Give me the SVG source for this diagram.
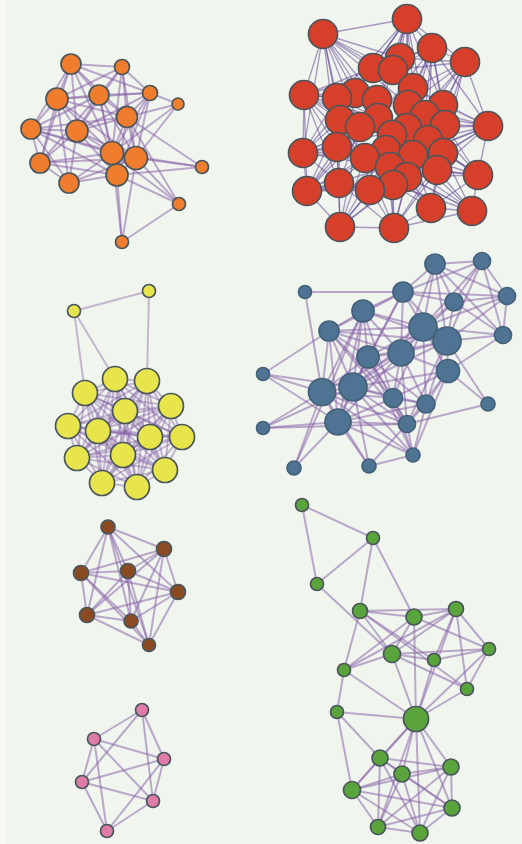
<svg xmlns="http://www.w3.org/2000/svg" width="522" height="844" viewBox="0 0 522 844">
<style>
  .bg { fill: #f0f5ee; }
  .edge path { fill: none; stroke: #8660a6; stroke-opacity: 0.52; stroke-width: 2; }
  #edges-red path { stroke: #54308c; stroke-opacity: 0.48; stroke-width: 1.35; }
  #edges-yellow path { stroke-opacity: 0.42; }
  .node circle { stroke: #4a565c; stroke-width: 1.7; }
  .o circle { fill: #ef7d2d; }
  .r circle { fill: #d6402b; }
  .y circle { fill: #e7e54b; }
  .b circle { fill: #4f7493; stroke: #44617a; }
  .n circle { fill: #8b4a22; }
  .p circle { fill: #e07ba8; }
  .g circle { fill: #59a53b; }
</style>
<rect class="bg" x="0" y="0" width="522" height="844"/>
<rect x="0" y="0" width="5" height="844" fill="#f6f9f4"/>

<!-- connectors -->
<g id="edges">
  <g id="edges-orange" class="edge">
    <path d="M71 64L122 67"/><path d="M71 64L57 99"/><path d="M71 64L99 95"/><path d="M71 64L150 93"/>
    <path d="M71 64L127 117"/><path d="M71 64L77 131"/><path d="M71 64L112 153"/><path d="M71 64L31 129"/>
    <path d="M71 64L40 163"/><path d="M122 67L99 95"/><path d="M122 67L150 93"/><path d="M122 67L127 117"/>
    <path d="M122 67L112 153"/><path d="M122 67L136 158"/><path d="M122 67L57 99"/><path d="M122 67L77 131"/>
    <path d="M57 99L99 95"/><path d="M57 99L31 129"/><path d="M57 99L77 131"/><path d="M57 99L112 153"/>
    <path d="M57 99L40 163"/><path d="M57 99L69 183"/><path d="M57 99L127 117"/><path d="M57 99L150 93"/>
    <path d="M57 99L136 158"/><path d="M99 95L150 93"/><path d="M99 95L127 117"/><path d="M99 95L77 131"/>
    <path d="M99 95L112 153"/><path d="M99 95L136 158"/><path d="M99 95L117 175"/><path d="M99 95L31 129"/>
    <path d="M99 95L40 163"/><path d="M150 93L178 104"/><path d="M150 93L127 117"/><path d="M150 93L136 158"/>
    <path d="M150 93L112 153"/><path d="M150 93L117 175"/><path d="M150 93L77 131"/><path d="M178 104L127 117"/>
    <path d="M178 104L112 153"/><path d="M178 104L136 158"/><path d="M127 117L77 131"/><path d="M127 117L112 153"/>
    <path d="M127 117L136 158"/><path d="M127 117L117 175"/><path d="M127 117L202 167"/><path d="M127 117L179 204"/>
    <path d="M127 117L31 129"/><path d="M31 129L77 131"/><path d="M31 129L40 163"/><path d="M31 129L112 153"/>
    <path d="M31 129L136 158"/><path d="M31 129L69 183"/><path d="M31 129L117 175"/><path d="M77 131L112 153"/>
    <path d="M77 131L136 158"/><path d="M77 131L40 163"/><path d="M77 131L117 175"/><path d="M77 131L69 183"/>
    <path d="M112 153L136 158"/><path d="M112 153L40 163"/><path d="M112 153L117 175"/><path d="M112 153L69 183"/>
    <path d="M112 153L202 167"/><path d="M112 153L179 204"/><path d="M112 153L122 242"/><path d="M136 158L117 175"/>
    <path d="M136 158L202 167"/><path d="M136 158L179 204"/><path d="M136 158L40 163"/><path d="M136 158L69 183"/>
    <path d="M40 163L117 175"/><path d="M40 163L69 183"/><path d="M117 175L69 183"/><path d="M117 175L122 242"/>
    <path d="M117 175L179 204"/><path d="M117 175L202 167"/><path d="M179 204L122 242"/><path d="M136 158L122 242"/>
  </g>
  <g id="edges-red" class="edge">
    <path d="M407 19L323 34"/><path d="M407 19L432 48"/><path d="M407 19L465 62"/><path d="M407 19L400 58"/>
    <path d="M407 19L373 68"/><path d="M407 19L393 70"/><path d="M407 19L413 88"/><path d="M407 19L377 100"/>
    <path d="M407 19L408 105"/><path d="M407 19L443 105"/><path d="M407 19L355 93"/><path d="M407 19L407 128"/>
    <path d="M407 19L337 98"/><path d="M407 19L378 118"/><path d="M407 19L425 115"/>
    <path d="M323 34L304 95"/><path d="M323 34L400 58"/><path d="M323 34L373 68"/><path d="M323 34L393 70"/>
    <path d="M323 34L355 93"/><path d="M323 34L337 98"/><path d="M323 34L377 100"/><path d="M323 34L340 120"/>
    <path d="M323 34L378 118"/><path d="M323 34L413 88"/><path d="M323 34L303 153"/><path d="M323 34L360 127"/>
    <path d="M323 34L408 105"/><path d="M323 34L337 147"/>
    <path d="M432 48L465 62"/><path d="M432 48L400 58"/><path d="M432 48L393 70"/><path d="M432 48L413 88"/>
    <path d="M432 48L408 105"/><path d="M432 48L443 105"/><path d="M432 48L407 128"/><path d="M432 48L445 125"/>
    <path d="M432 48L425 115"/><path d="M432 48L378 118"/><path d="M432 48L373 68"/><path d="M432 48L428 140"/>
    <path d="M465 62L488 126"/><path d="M465 62L413 88"/><path d="M465 62L408 105"/><path d="M465 62L443 105"/>
    <path d="M465 62L445 125"/><path d="M465 62L425 115"/><path d="M465 62L407 128"/><path d="M465 62L443 153"/>
    <path d="M465 62L400 58"/><path d="M465 62L393 70"/><path d="M465 62L428 140"/>
    <path d="M304 95L303 153"/><path d="M304 95L373 68"/><path d="M304 95L355 93"/><path d="M304 95L337 98"/>
    <path d="M304 95L377 100"/><path d="M304 95L340 120"/><path d="M304 95L360 127"/><path d="M304 95L378 118"/>
    <path d="M304 95L337 147"/><path d="M304 95L307 191"/><path d="M304 95L393 70"/><path d="M304 95L365 158"/>
    <path d="M304 95L392 135"/><path d="M304 95L339 183"/>
    <path d="M488 126L478 175"/><path d="M488 126L408 105"/><path d="M488 126L443 105"/><path d="M488 126L445 125"/>
    <path d="M488 126L407 128"/><path d="M488 126L443 153"/><path d="M488 126L437 170"/><path d="M488 126L425 115"/>
    <path d="M488 126L413 155"/><path d="M488 126L432 48"/><path d="M488 126L413 88"/><path d="M488 126L407 177"/>
    <path d="M488 126L390 167"/><path d="M488 126L428 140"/>
    <path d="M303 153L307 191"/><path d="M303 153L337 98"/><path d="M303 153L340 120"/><path d="M303 153L360 127"/>
    <path d="M303 153L337 147"/><path d="M303 153L365 158"/><path d="M303 153L378 118"/><path d="M303 153L339 183"/>
    <path d="M303 153L386 150"/><path d="M303 153L355 93"/><path d="M303 153L390 167"/><path d="M303 153L407 128"/>
    <path d="M307 191L340 227"/><path d="M307 191L339 183"/><path d="M307 191L337 147"/><path d="M307 191L365 158"/>
    <path d="M307 191L340 120"/><path d="M307 191L360 127"/><path d="M307 191L370 190"/><path d="M307 191L390 167"/>
    <path d="M307 191L393 185"/><path d="M307 191L386 150"/><path d="M307 191L378 118"/><path d="M307 191L407 177"/>
    <path d="M478 175L472 211"/><path d="M478 175L445 125"/><path d="M478 175L443 153"/><path d="M478 175L437 170"/>
    <path d="M478 175L413 155"/><path d="M478 175L407 177"/><path d="M478 175L431 208"/><path d="M478 175L407 128"/>
    <path d="M478 175L425 115"/><path d="M478 175L390 167"/><path d="M478 175L428 140"/>
    <path d="M472 211L431 208"/><path d="M472 211L394 228"/><path d="M472 211L443 153"/><path d="M472 211L437 170"/>
    <path d="M472 211L407 177"/><path d="M472 211L413 155"/><path d="M472 211L393 185"/><path d="M472 211L390 167"/>
    <path d="M472 211L386 150"/>
    <path d="M340 227L394 228"/><path d="M340 227L339 183"/><path d="M340 227L370 190"/><path d="M340 227L365 158"/>
    <path d="M340 227L390 167"/><path d="M340 227L393 185"/><path d="M340 227L337 147"/><path d="M340 227L386 150"/>
    <path d="M340 227L407 177"/><path d="M340 227L360 127"/>
    <path d="M394 228L431 208"/><path d="M394 228L370 190"/><path d="M394 228L407 177"/><path d="M394 228L393 185"/>
    <path d="M394 228L390 167"/><path d="M394 228L365 158"/><path d="M394 228L413 155"/><path d="M394 228L437 170"/>
    <path d="M394 228L339 183"/><path d="M394 228L386 150"/><path d="M394 228L443 153"/>
    <path d="M431 208L437 170"/><path d="M431 208L407 177"/><path d="M431 208L443 153"/><path d="M431 208L413 155"/>
    <path d="M431 208L393 185"/><path d="M431 208L390 167"/>
    <path d="M339 183L337 147"/><path d="M339 183L365 158"/><path d="M339 183L360 127"/><path d="M339 183L340 120"/>
    <path d="M339 183L370 190"/>
    <path d="M370 190L365 158"/><path d="M370 190L390 167"/><path d="M370 190L393 185"/><path d="M370 190L386 150"/>
    <path d="M400 58L413 88"/><path d="M373 68L355 93"/><path d="M393 70L377 100"/><path d="M413 88L443 105"/>
    <path d="M355 93L340 120"/><path d="M377 100L408 105"/><path d="M408 105L445 125"/><path d="M378 118L407 128"/>
    <path d="M360 127L337 147"/><path d="M407 128L443 153"/><path d="M386 150L413 155"/><path d="M365 158L390 167"/>
    <path d="M413 155L437 170"/><path d="M390 167L407 177"/><path d="M337 98L360 127"/><path d="M425 115L413 155"/>
    <path d="M378 118L386 150"/><path d="M443 105L425 115"/><path d="M340 120L365 158"/><path d="M443 153L407 177"/>
    <path d="M373 68L413 88"/><path d="M355 93L377 100"/><path d="M337 98L378 118"/><path d="M413 88L408 105"/>
    <path d="M360 127L392 135"/><path d="M392 135L428 140"/><path d="M337 147L365 158"/><path d="M386 150L407 177"/>
  </g>
  <g id="edges-yellow" class="edge">
    <path d="M149 291L74 311"/><path d="M74 311L85 393"/><path d="M74 311L115 379"/><path d="M149 291L147 381"/>
    <path d="M115 379L147 381"/><path d="M115 379L85 393"/><path d="M115 379L171 406"/><path d="M115 379L125 411"/>
    <path d="M115 379L68 426"/><path d="M115 379L98 431"/><path d="M115 379L150 437"/><path d="M115 379L182 437"/>
    <path d="M115 379L123 455"/><path d="M115 379L77 458"/><path d="M115 379L165 470"/><path d="M115 379L102 483"/>
    <path d="M115 379L137 487"/>
    <path d="M147 381L85 393"/><path d="M147 381L171 406"/><path d="M147 381L125 411"/><path d="M147 381L68 426"/>
    <path d="M147 381L98 431"/><path d="M147 381L150 437"/><path d="M147 381L182 437"/><path d="M147 381L123 455"/>
    <path d="M147 381L77 458"/><path d="M147 381L165 470"/><path d="M147 381L102 483"/><path d="M147 381L137 487"/>
    <path d="M85 393L171 406"/><path d="M85 393L125 411"/><path d="M85 393L68 426"/><path d="M85 393L98 431"/>
    <path d="M85 393L150 437"/><path d="M85 393L182 437"/><path d="M85 393L123 455"/><path d="M85 393L77 458"/>
    <path d="M85 393L165 470"/><path d="M85 393L102 483"/><path d="M85 393L137 487"/>
    <path d="M171 406L125 411"/><path d="M171 406L68 426"/><path d="M171 406L98 431"/><path d="M171 406L150 437"/>
    <path d="M171 406L182 437"/><path d="M171 406L123 455"/><path d="M171 406L77 458"/><path d="M171 406L165 470"/>
    <path d="M171 406L102 483"/><path d="M171 406L137 487"/>
    <path d="M125 411L68 426"/><path d="M125 411L98 431"/><path d="M125 411L150 437"/><path d="M125 411L182 437"/>
    <path d="M125 411L123 455"/><path d="M125 411L77 458"/><path d="M125 411L165 470"/><path d="M125 411L102 483"/>
    <path d="M125 411L137 487"/>
    <path d="M68 426L98 431"/><path d="M68 426L150 437"/><path d="M68 426L182 437"/><path d="M68 426L123 455"/>
    <path d="M68 426L77 458"/><path d="M68 426L165 470"/><path d="M68 426L102 483"/><path d="M68 426L137 487"/>
    <path d="M98 431L150 437"/><path d="M98 431L182 437"/><path d="M98 431L123 455"/><path d="M98 431L77 458"/>
    <path d="M98 431L165 470"/><path d="M98 431L102 483"/><path d="M98 431L137 487"/>
    <path d="M150 437L182 437"/><path d="M150 437L123 455"/><path d="M150 437L77 458"/><path d="M150 437L165 470"/>
    <path d="M150 437L102 483"/><path d="M150 437L137 487"/>
    <path d="M182 437L123 455"/><path d="M182 437L77 458"/><path d="M182 437L165 470"/><path d="M182 437L102 483"/>
    <path d="M182 437L137 487"/>
    <path d="M123 455L77 458"/><path d="M123 455L165 470"/><path d="M123 455L102 483"/><path d="M123 455L137 487"/>
    <path d="M77 458L165 470"/><path d="M77 458L102 483"/><path d="M77 458L137 487"/>
    <path d="M165 470L102 483"/><path d="M165 470L137 487"/><path d="M102 483L137 487"/>
  </g>
  <g id="edges-blue" class="edge">
    <path d="M435 264L482 261"/><path d="M435 264L403 292"/><path d="M435 264L454 302"/><path d="M435 264L507 296"/>
    <path d="M435 264L423 327"/><path d="M435 264L447 341"/><path d="M435 264L503 335"/><path d="M435 264L401 353"/>
    <path d="M482 261L454 302"/><path d="M482 261L507 296"/><path d="M482 261L423 327"/><path d="M482 261L447 341"/>
    <path d="M482 261L503 335"/><path d="M482 261L403 292"/>
    <path d="M305 292L403 292"/><path d="M305 292L322 392"/>
    <path d="M403 292L454 302"/><path d="M403 292L507 296"/><path d="M403 292L363 311"/><path d="M403 292L423 327"/>
    <path d="M403 292L447 341"/><path d="M403 292L368 357"/><path d="M403 292L401 353"/><path d="M403 292L353 387"/>
    <path d="M403 292L329 331"/>
    <path d="M454 302L507 296"/><path d="M454 302L423 327"/><path d="M454 302L447 341"/><path d="M454 302L503 335"/>
    <path d="M454 302L401 353"/>
    <path d="M507 296L423 327"/><path d="M507 296L447 341"/><path d="M507 296L503 335"/>
    <path d="M363 311L423 327"/><path d="M363 311L329 331"/><path d="M363 311L368 357"/><path d="M363 311L401 353"/>
    <path d="M363 311L322 392"/><path d="M363 311L353 387"/><path d="M363 311L393 398"/><path d="M363 311L338 422"/>
    <path d="M363 311L447 341"/><path d="M363 311L294 468"/>
    <path d="M423 327L329 331"/><path d="M423 327L447 341"/><path d="M423 327L503 335"/><path d="M423 327L368 357"/>
    <path d="M423 327L401 353"/><path d="M423 327L448 371"/><path d="M423 327L353 387"/><path d="M423 327L393 398"/>
    <path d="M423 327L426 404"/>
    <path d="M329 331L447 341"/><path d="M329 331L368 357"/><path d="M329 331L401 353"/><path d="M329 331L263 374"/>
    <path d="M329 331L322 392"/><path d="M329 331L353 387"/><path d="M329 331L393 398"/><path d="M329 331L338 422"/>
    <path d="M329 331L407 424"/>
    <path d="M447 341L503 335"/><path d="M447 341L368 357"/><path d="M447 341L401 353"/><path d="M447 341L448 371"/>
    <path d="M447 341L353 387"/><path d="M447 341L426 404"/><path d="M447 341L488 404"/><path d="M447 341L407 424"/>
    <path d="M503 335L448 371"/>
    <path d="M368 357L401 353"/><path d="M368 357L322 392"/><path d="M368 357L353 387"/><path d="M368 357L393 398"/>
    <path d="M368 357L426 404"/><path d="M368 357L338 422"/><path d="M368 357L407 424"/><path d="M368 357L413 455"/>
    <path d="M401 353L448 371"/><path d="M401 353L322 392"/><path d="M401 353L353 387"/><path d="M401 353L393 398"/>
    <path d="M401 353L426 404"/><path d="M401 353L338 422"/><path d="M401 353L407 424"/>
    <path d="M448 371L353 387"/><path d="M448 371L426 404"/><path d="M448 371L488 404"/><path d="M448 371L407 424"/>
    <path d="M448 371L413 455"/><path d="M448 371L393 398"/>
    <path d="M263 374L322 392"/><path d="M263 374L353 387"/><path d="M263 374L338 422"/>
    <path d="M322 392L353 387"/><path d="M322 392L393 398"/><path d="M322 392L338 422"/><path d="M322 392L407 424"/>
    <path d="M322 392L263 428"/><path d="M322 392L369 466"/><path d="M322 392L294 468"/><path d="M322 392L413 455"/>
    <path d="M353 387L393 398"/><path d="M353 387L426 404"/><path d="M353 387L338 422"/><path d="M353 387L407 424"/>
    <path d="M353 387L413 455"/><path d="M353 387L369 466"/><path d="M353 387L263 428"/>
    <path d="M393 398L426 404"/><path d="M393 398L338 422"/><path d="M393 398L407 424"/><path d="M393 398L413 455"/>
    <path d="M426 404L338 422"/><path d="M426 404L407 424"/><path d="M426 404L413 455"/>
    <path d="M488 404L407 424"/>
    <path d="M338 422L407 424"/><path d="M338 422L263 428"/><path d="M338 422L413 455"/><path d="M338 422L369 466"/>
    <path d="M338 422L294 468"/>
    <path d="M407 424L263 428"/><path d="M407 424L413 455"/><path d="M407 424L369 466"/>
    <path d="M413 455L369 466"/>
  </g>
  <g id="edges-brown" class="edge">
    <path d="M108 527L164 549"/><path d="M108 527L81 573"/><path d="M108 527L128 571"/><path d="M108 527L178 592"/>
    <path d="M108 527L87 615"/><path d="M108 527L131 621"/><path d="M108 527L149 645"/>
    <path d="M164 549L81 573"/><path d="M164 549L128 571"/><path d="M164 549L178 592"/><path d="M164 549L87 615"/>
    <path d="M164 549L131 621"/><path d="M164 549L149 645"/>
    <path d="M81 573L128 571"/><path d="M81 573L178 592"/><path d="M81 573L87 615"/><path d="M81 573L131 621"/>
    <path d="M81 573L149 645"/>
    <path d="M128 571L178 592"/><path d="M128 571L87 615"/><path d="M128 571L131 621"/><path d="M128 571L149 645"/>
    <path d="M178 592L87 615"/><path d="M178 592L131 621"/><path d="M178 592L149 645"/>
    <path d="M87 615L131 621"/><path d="M87 615L149 645"/><path d="M131 621L149 645"/>
  </g>
  <g id="edges-pink" class="edge">
    <path d="M142 710L94 739"/><path d="M142 710L164 759"/><path d="M142 710L153 801"/><path d="M142 710L82 782"/>
    <path d="M94 739L164 759"/><path d="M94 739L82 782"/><path d="M94 739L153 801"/><path d="M94 739L107 831"/>
    <path d="M164 759L82 782"/><path d="M164 759L153 801"/><path d="M164 759L107 831"/>
    <path d="M82 782L153 801"/><path d="M82 782L107 831"/><path d="M153 801L107 831"/>
  </g>
  <g id="edges-green" class="edge">
    <path d="M302 505L373 538"/><path d="M302 505L317 584"/><path d="M373 538L317 584"/><path d="M373 538L360 611"/>
    <path d="M373 538L414 617"/><path d="M317 584L392 654"/>
    <path d="M360 611L414 617"/><path d="M360 611L456 609"/><path d="M360 611L392 654"/><path d="M360 611L434 660"/>
    <path d="M360 611L344 670"/><path d="M360 611L467 689"/>
    <path d="M414 617L456 609"/><path d="M414 617L392 654"/><path d="M414 617L344 670"/><path d="M414 617L416 719"/>
    <path d="M414 617L489 649"/>
    <path d="M456 609L392 654"/><path d="M456 609L434 660"/><path d="M456 609L416 719"/><path d="M456 609L489 649"/>
    <path d="M456 609L467 689"/><path d="M456 609L344 670"/>
    <path d="M392 654L434 660"/><path d="M392 654L489 649"/><path d="M392 654L344 670"/><path d="M392 654L416 719"/>
    <path d="M392 654L467 689"/>
    <path d="M434 660L416 719"/><path d="M434 660L489 649"/>
    <path d="M489 649L467 689"/><path d="M489 649L416 719"/>
    <path d="M344 670L416 719"/><path d="M344 670L337 712"/><path d="M467 689L416 719"/>
    <path d="M337 712L416 719"/><path d="M337 712L380 758"/><path d="M337 712L352 790"/>
    <path d="M416 719L380 758"/><path d="M416 719L402 774"/><path d="M416 719L451 767"/><path d="M416 719L452 808"/>
    <path d="M416 719L420 833"/><path d="M416 719L378 827"/><path d="M416 719L352 790"/>
    <path d="M380 758L402 774"/><path d="M380 758L451 767"/><path d="M380 758L352 790"/><path d="M380 758L378 827"/>
    <path d="M380 758L420 833"/><path d="M380 758L452 808"/>
    <path d="M402 774L451 767"/><path d="M402 774L352 790"/><path d="M402 774L378 827"/><path d="M402 774L420 833"/>
    <path d="M402 774L452 808"/>
    <path d="M451 767L352 790"/><path d="M451 767L452 808"/><path d="M451 767L378 827"/><path d="M451 767L420 833"/>
    <path d="M352 790L452 808"/><path d="M352 790L378 827"/><path d="M352 790L420 833"/>
    <path d="M452 808L378 827"/><path d="M452 808L420 833"/><path d="M378 827L420 833"/>
  </g>
</g>

<!-- orange community -->
<g id="o1" class="node o"><circle cx="71" cy="64" r="10"/></g>
<g id="o2" class="node o"><circle cx="122" cy="67" r="7.5"/></g>
<g id="o3" class="node o"><circle cx="57" cy="99" r="11"/></g>
<g id="o4" class="node o"><circle cx="99" cy="95" r="10"/></g>
<g id="o5" class="node o"><circle cx="150" cy="93" r="7.5"/></g>
<g id="o6" class="node o"><circle cx="178" cy="104" r="6"/></g>
<g id="o7" class="node o"><circle cx="127" cy="117" r="10.5"/></g>
<g id="o8" class="node o"><circle cx="31" cy="129" r="10"/></g>
<g id="o9" class="node o"><circle cx="77" cy="131" r="11"/></g>
<g id="o10" class="node o"><circle cx="112" cy="153" r="11.5"/></g>
<g id="o11" class="node o"><circle cx="136" cy="158" r="11.5"/></g>
<g id="o12" class="node o"><circle cx="40" cy="163" r="10"/></g>
<g id="o13" class="node o"><circle cx="117" cy="175" r="11"/></g>
<g id="o14" class="node o"><circle cx="202" cy="167" r="6.5"/></g>
<g id="o15" class="node o"><circle cx="69" cy="183" r="10"/></g>
<g id="o16" class="node o"><circle cx="179" cy="204" r="6.5"/></g>
<g id="o17" class="node o"><circle cx="122" cy="242" r="6.5"/></g>

<!-- red community -->
<g id="r1" class="node r"><circle cx="407" cy="19" r="14.5"/></g>
<g id="r2" class="node r"><circle cx="323" cy="34" r="14.5"/></g>
<g id="r3" class="node r"><circle cx="432" cy="48" r="14.5"/></g>
<g id="r4" class="node r"><circle cx="400" cy="58" r="14.5"/></g>
<g id="r5" class="node r"><circle cx="465" cy="62" r="14.5"/></g>
<g id="r6" class="node r"><circle cx="373" cy="68" r="14.5"/></g>
<g id="r7" class="node r"><circle cx="393" cy="70" r="14.5"/></g>
<g id="r8" class="node r"><circle cx="413" cy="88" r="14.5"/></g>
<g id="r9" class="node r"><circle cx="355" cy="93" r="14.5"/></g>
<g id="r10" class="node r"><circle cx="304" cy="95" r="14.5"/></g>
<g id="r11" class="node r"><circle cx="337" cy="98" r="14.5"/></g>
<g id="r12" class="node r"><circle cx="377" cy="100" r="14.5"/></g>
<g id="r13" class="node r"><circle cx="408" cy="105" r="14.5"/></g>
<g id="r14" class="node r"><circle cx="443" cy="105" r="14.5"/></g>
<g id="r15" class="node r"><circle cx="425" cy="115" r="14.5"/></g>
<g id="r16" class="node r"><circle cx="378" cy="118" r="14.5"/></g>
<g id="r17" class="node r"><circle cx="340" cy="120" r="14.5"/></g>
<g id="r18" class="node r"><circle cx="445" cy="125" r="14.5"/></g>
<g id="r19" class="node r"><circle cx="488" cy="126" r="14.5"/></g>
<g id="r20" class="node r"><circle cx="360" cy="127" r="14.5"/></g>
<g id="r21" class="node r"><circle cx="407" cy="128" r="14.5"/></g>
<g id="r22" class="node r"><circle cx="392" cy="135" r="14.5"/></g>
<g id="r23" class="node r"><circle cx="428" cy="140" r="14.5"/></g>
<g id="r24" class="node r"><circle cx="337" cy="147" r="14.5"/></g>
<g id="r25" class="node r"><circle cx="386" cy="150" r="14.5"/></g>
<g id="r26" class="node r"><circle cx="303" cy="153" r="14.5"/></g>
<g id="r27" class="node r"><circle cx="443" cy="153" r="14.5"/></g>
<g id="r28" class="node r"><circle cx="413" cy="155" r="14.5"/></g>
<g id="r29" class="node r"><circle cx="365" cy="158" r="14.5"/></g>
<g id="r30" class="node r"><circle cx="390" cy="167" r="14.5"/></g>
<g id="r31" class="node r"><circle cx="437" cy="170" r="14.5"/></g>
<g id="r32" class="node r"><circle cx="478" cy="175" r="14.5"/></g>
<g id="r33" class="node r"><circle cx="407" cy="177" r="14.5"/></g>
<g id="r34" class="node r"><circle cx="339" cy="183" r="14.5"/></g>
<g id="r35" class="node r"><circle cx="393" cy="185" r="14.5"/></g>
<g id="r36" class="node r"><circle cx="370" cy="190" r="14.5"/></g>
<g id="r37" class="node r"><circle cx="307" cy="191" r="14.5"/></g>
<g id="r38" class="node r"><circle cx="431" cy="208" r="14.5"/></g>
<g id="r39" class="node r"><circle cx="472" cy="211" r="14.5"/></g>
<g id="r40" class="node r"><circle cx="340" cy="227" r="14.5"/></g>
<g id="r41" class="node r"><circle cx="394" cy="228" r="14.5"/></g>

<!-- yellow community -->
<g id="y1" class="node y"><circle cx="149" cy="291" r="6.5"/></g>
<g id="y2" class="node y"><circle cx="74" cy="311" r="6.5"/></g>
<g id="y3" class="node y"><circle cx="115" cy="379" r="12.5"/></g>
<g id="y4" class="node y"><circle cx="147" cy="381" r="12.5"/></g>
<g id="y5" class="node y"><circle cx="85" cy="393" r="12.5"/></g>
<g id="y6" class="node y"><circle cx="171" cy="406" r="12.5"/></g>
<g id="y7" class="node y"><circle cx="125" cy="411" r="12.5"/></g>
<g id="y8" class="node y"><circle cx="68" cy="426" r="12.5"/></g>
<g id="y9" class="node y"><circle cx="98" cy="431" r="12.5"/></g>
<g id="y10" class="node y"><circle cx="150" cy="437" r="12.5"/></g>
<g id="y11" class="node y"><circle cx="182" cy="437" r="12.5"/></g>
<g id="y12" class="node y"><circle cx="123" cy="455" r="12.5"/></g>
<g id="y13" class="node y"><circle cx="77" cy="458" r="12.5"/></g>
<g id="y14" class="node y"><circle cx="165" cy="470" r="12.5"/></g>
<g id="y15" class="node y"><circle cx="102" cy="483" r="12.5"/></g>
<g id="y16" class="node y"><circle cx="137" cy="487" r="12.5"/></g>

<!-- blue community -->
<g id="b1" class="node b"><circle cx="435" cy="264" r="10"/></g>
<g id="b2" class="node b"><circle cx="482" cy="261" r="8.5"/></g>
<g id="b3" class="node b"><circle cx="305" cy="292" r="6.5"/></g>
<g id="b4" class="node b"><circle cx="403" cy="292" r="10"/></g>
<g id="b5" class="node b"><circle cx="454" cy="302" r="9"/></g>
<g id="b6" class="node b"><circle cx="507" cy="296" r="8.5"/></g>
<g id="b7" class="node b"><circle cx="363" cy="311" r="11"/></g>
<g id="b8" class="node b"><circle cx="423" cy="327" r="14"/></g>
<g id="b9" class="node b"><circle cx="329" cy="331" r="10"/></g>
<g id="b10" class="node b"><circle cx="447" cy="341" r="14"/></g>
<g id="b11" class="node b"><circle cx="503" cy="335" r="8.5"/></g>
<g id="b12" class="node b"><circle cx="368" cy="357" r="11"/></g>
<g id="b13" class="node b"><circle cx="401" cy="353" r="13"/></g>
<g id="b14" class="node b"><circle cx="448" cy="371" r="11.5"/></g>
<g id="b15" class="node b"><circle cx="263" cy="374" r="6.5"/></g>
<g id="b16" class="node b"><circle cx="322" cy="392" r="13.5"/></g>
<g id="b17" class="node b"><circle cx="353" cy="387" r="14"/></g>
<g id="b18" class="node b"><circle cx="393" cy="398" r="9.5"/></g>
<g id="b19" class="node b"><circle cx="426" cy="404" r="9"/></g>
<g id="b20" class="node b"><circle cx="488" cy="404" r="7"/></g>
<g id="b21" class="node b"><circle cx="338" cy="422" r="13"/></g>
<g id="b22" class="node b"><circle cx="407" cy="424" r="8.5"/></g>
<g id="b23" class="node b"><circle cx="263" cy="428" r="6.5"/></g>
<g id="b24" class="node b"><circle cx="413" cy="455" r="7"/></g>
<g id="b25" class="node b"><circle cx="369" cy="466" r="7"/></g>
<g id="b26" class="node b"><circle cx="294" cy="468" r="7"/></g>

<!-- brown community -->
<g id="n1" class="node n"><circle cx="108" cy="527" r="7"/></g>
<g id="n2" class="node n"><circle cx="164" cy="549" r="7.5"/></g>
<g id="n3" class="node n"><circle cx="81" cy="573" r="7.5"/></g>
<g id="n4" class="node n"><circle cx="128" cy="571" r="7.5"/></g>
<g id="n5" class="node n"><circle cx="178" cy="592" r="7.5"/></g>
<g id="n6" class="node n"><circle cx="87" cy="615" r="7.5"/></g>
<g id="n7" class="node n"><circle cx="131" cy="621" r="7"/></g>
<g id="n8" class="node n"><circle cx="149" cy="645" r="6.5"/></g>

<!-- pink community -->
<g id="p1" class="node p"><circle cx="142" cy="710" r="6.5"/></g>
<g id="p2" class="node p"><circle cx="94" cy="739" r="6.5"/></g>
<g id="p3" class="node p"><circle cx="164" cy="759" r="6.5"/></g>
<g id="p4" class="node p"><circle cx="82" cy="782" r="6.5"/></g>
<g id="p5" class="node p"><circle cx="153" cy="801" r="6.5"/></g>
<g id="p6" class="node p"><circle cx="107" cy="831" r="6.5"/></g>

<!-- green community -->
<g id="g1" class="node g"><circle cx="302" cy="505" r="6.5"/></g>
<g id="g2" class="node g"><circle cx="373" cy="538" r="6.5"/></g>
<g id="g3" class="node g"><circle cx="317" cy="584" r="6.5"/></g>
<g id="g4" class="node g"><circle cx="360" cy="611" r="7.5"/></g>
<g id="g5" class="node g"><circle cx="414" cy="617" r="8"/></g>
<g id="g6" class="node g"><circle cx="456" cy="609" r="7.5"/></g>
<g id="g7" class="node g"><circle cx="392" cy="654" r="8.5"/></g>
<g id="g8" class="node g"><circle cx="434" cy="660" r="6.5"/></g>
<g id="g9" class="node g"><circle cx="489" cy="649" r="6.5"/></g>
<g id="g10" class="node g"><circle cx="344" cy="670" r="6.5"/></g>
<g id="g11" class="node g"><circle cx="467" cy="689" r="6.5"/></g>
<g id="g12" class="node g"><circle cx="337" cy="712" r="6.5"/></g>
<g id="g13" class="node g"><circle cx="416" cy="719" r="12.5"/></g>
<g id="g14" class="node g"><circle cx="380" cy="758" r="8"/></g>
<g id="g15" class="node g"><circle cx="451" cy="767" r="8"/></g>
<g id="g16" class="node g"><circle cx="402" cy="774" r="8"/></g>
<g id="g17" class="node g"><circle cx="352" cy="790" r="8.5"/></g>
<g id="g18" class="node g"><circle cx="452" cy="808" r="8"/></g>
<g id="g19" class="node g"><circle cx="378" cy="827" r="7.5"/></g>
<g id="g20" class="node g"><circle cx="420" cy="833" r="8"/></g>
</svg>
